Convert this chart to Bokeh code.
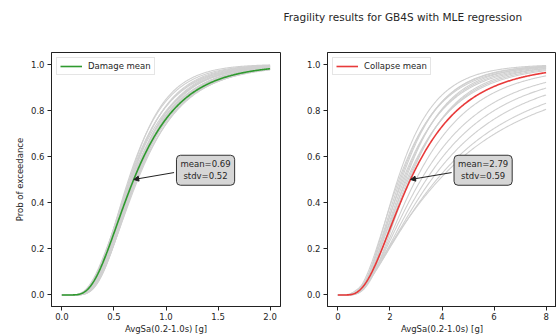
import math
import numpy as np
from bokeh.plotting import figure
from bokeh.layouts import row
from bokeh.models import Label, Arrow, NormalHead, Range1d, FixedTicker, PrintfTickFormatter, Title
from bokeh.embed import file_html
from bokeh.resources import INLINE

# ---------------- data ----------------
title_text = "Fragility results for GB4S with MLE regression"
x_label = "AvgSa(0.2-1.0s) [g]"
y_label = "Prob of exceedance"

damage_mean = 0.69
damage_stdv = 0.52
collapse_mean = 2.79
collapse_stdv = 0.59

# individual (gray) fragility curves: lognormal medians and dispersions
damage_medians = [0.64, 0.65, 0.66, 0.66, 0.67, 0.68, 0.68, 0.69, 0.69, 0.70,
                  0.70, 0.71, 0.71, 0.72, 0.72, 0.73, 0.67, 0.65, 0.70, 0.68]
damage_betas = [0.45, 0.48, 0.50, 0.46, 0.52, 0.48, 0.54, 0.50, 0.46, 0.48,
                0.53, 0.49, 0.45, 0.51, 0.47, 0.49, 0.44, 0.42, 0.44, 0.55]

collapse_medians = [2.30, 2.35, 2.40, 2.45, 2.50, 2.55, 2.60, 2.65, 2.70, 2.75,
                    3.00, 3.20, 3.40, 3.60, 3.80, 3.90]
collapse_betas = [0.50, 0.55, 0.52, 0.50, 0.56, 0.53, 0.50, 0.58, 0.55, 0.52,
                  0.60, 0.65, 0.68, 0.72, 0.78, 0.84]

damage_x_max = 2.0
collapse_x_max = 8.0

y_ticks = [0.0, 0.2, 0.4, 0.6, 0.8, 1.0]
damage_x_ticks = [0.0, 0.5, 1.0, 1.5, 2.0]
collapse_x_ticks = [0, 2, 4, 6, 8]

FONT = "DejaVu Sans"
FS = "8.5px"
TXT = "#262626"


def lognorm_cdf(x, med, beta):
    out = np.zeros_like(x)
    pos = x > 0
    z = np.log(x[pos] / med) / (beta * math.sqrt(2.0))
    out[pos] = 0.5 * (1.0 + np.vectorize(math.erf)(z))
    return out


def make_panel(xmax, medians, betas, mean, stdv, color, legend, xticks, xfmt,
               width, min_left, min_right, show_ylabel, frame_w):
    pad = 0.05 * xmax
    p = figure(width=width, height=336, output_backend="svg", toolbar_location=None,
               x_range=Range1d(-pad, xmax + pad), y_range=Range1d(-0.05, 1.05),
               min_border_left=min_left, min_border_right=min_right,
               min_border_top=52, min_border_bottom=28)
    p.xgrid.visible = False
    p.ygrid.visible = False
    p.outline_line_color = "#222222"
    p.outline_line_width = 1
    p.background_fill_color = "white"
    p.border_fill_color = "white"

    xs = np.linspace(0, xmax, 300)
    p.multi_line([list(xs)] * len(medians),
                 [list(lognorm_cdf(xs, m, b)) for m, b in zip(medians, betas)],
                 line_color="#d0d0d0", line_width=1.1)
    p.line(xs, lognorm_cdf(xs, mean, stdv), line_color=color, line_width=1.6,
           legend_label=legend)

    for ax in (p.xaxis[0], p.yaxis[0]):
        ax.axis_line_color = "#222222"
        ax.major_tick_line_color = "#222222"
        ax.minor_tick_line_color = None
        ax.major_tick_out = 4
        ax.major_tick_in = 0
        ax.major_label_text_font = FONT
        ax.major_label_text_font_size = FS
        ax.major_label_text_color = TXT
        ax.axis_label_text_font = FONT
        ax.axis_label_text_font_size = FS
        ax.axis_label_text_font_style = "normal"
        ax.axis_label_text_color = TXT
        ax.major_label_standoff = 3
        ax.axis_label_standoff = 2
    p.xaxis.ticker = FixedTicker(ticks=xticks)
    p.xaxis.formatter = PrintfTickFormatter(format=xfmt)
    p.yaxis.ticker = FixedTicker(ticks=y_ticks)
    p.yaxis.formatter = PrintfTickFormatter(format="%.1f")
    p.xaxis.axis_label = x_label
    p.xaxis.major_label_standoff = 2
    p.xaxis.axis_label_standoff = 1
    if show_ylabel:
        p.yaxis.axis_label = y_label
        p.yaxis.axis_label_standoff = 3

    # annotation box
    ppu = frame_w / (xmax + 2 * pad)
    tx, ty = 2 * mean, 0.54
    p.add_layout(Label(x=tx, y=ty, text=f"mean={mean:.2f}\nstdv={stdv:.2f}",
                       text_align="center", text_baseline="middle",
                       text_font=FONT, text_font_size=FS, text_color=TXT,
                       background_fill_color="#d6d6d6", background_fill_alpha=1.0,
                       border_line_color="#333333", border_line_width=1,
                       padding=4, border_radius=4))
    p.add_layout(Arrow(end=NormalHead(size=5, fill_color="#222222", line_color="#222222"),
                       x_start=tx - 31.5 / ppu, y_start=ty - 0.01,
                       x_end=mean, y_end=0.5, line_color="#222222", line_width=1))

    lg = p.legend[0]
    lg.location = "top_left"
    lg.border_line_color = "#cccccc"
    lg.border_line_width = 1
    lg.background_fill_alpha = 1.0
    lg.label_text_font = FONT
    lg.label_text_font_size = FS
    lg.label_text_color = TXT
    lg.glyph_width = 22
    lg.glyph_height = 10
    lg.label_height = 10
    lg.label_standoff = 6
    lg.padding = 3
    lg.margin = 5
    lg.spacing = 0
    return p


p1 = make_panel(damage_x_max, damage_medians, damage_betas, damage_mean, damage_stdv,
                "#2f9a2f", "Damage mean", damage_x_ticks, "%.1f",
                width=281, min_left=51, min_right=1, show_ylabel=True, frame_w=229)
p2 = make_panel(collapse_x_max, collapse_medians, collapse_betas, collapse_mean, collapse_stdv,
                "#e83a3a", "Collapse mean", collapse_x_ticks, "%d",
                width=275, min_left=46, min_right=0, show_ylabel=False, frame_w=229)

# spacer panel nearest the frame, then the suptitle above it
p2.add_layout(Title(text=" ", text_font=FONT, text_font_size="9px", standoff=16), "above")
p2.add_layout(Title(text=title_text, text_font=FONT, text_font_size="10.5px",
                    text_font_style="normal", text_color=TXT, align="left",
                    vertical_align="top", offset=-44, standoff=0), "above")

layout = row(p1, p2)
open("out.html", "w").write(file_html(layout, INLINE))
